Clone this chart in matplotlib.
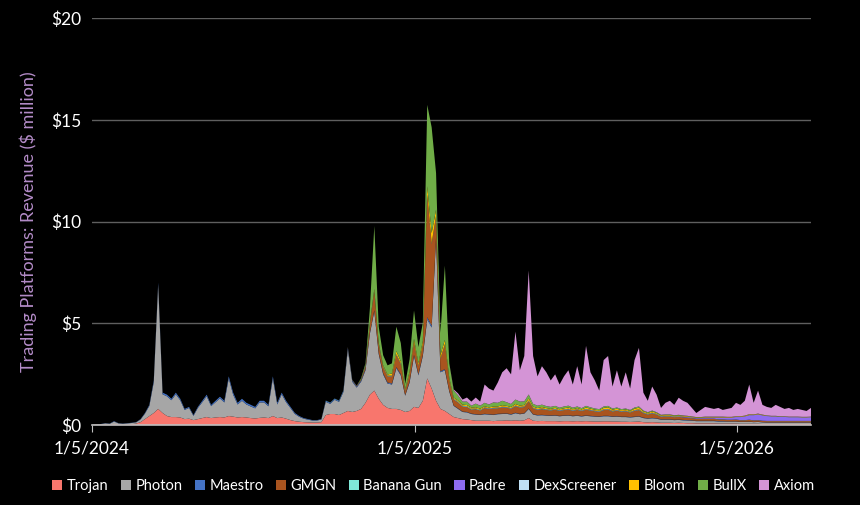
import numpy as np
import pandas as pd
import matplotlib
matplotlib.use("Agg")
import matplotlib.pyplot as plt
from matplotlib.patches import Patch

plt.rcParams['font.family'] = ['Lato', 'DejaVu Sans']

# revenue in $ million, one value every 5 days from 1/5/2024
dates = pd.date_range('2024-01-05', periods=164, freq='5D')

trojan = [0.01, 0.02, 0.03, 0.04, 0.03, 0.05, 0.04, 0.03, 0.04, 0.05,
          0.08, 0.15, 0.30, 0.45, 0.60, 0.80, 0.60, 0.45, 0.40, 0.40,
          0.38, 0.30, 0.32, 0.25, 0.30, 0.35, 0.40, 0.35, 0.38, 0.40,
          0.38, 0.45, 0.42, 0.38, 0.40, 0.38, 0.35, 0.33, 0.36, 0.38,
          0.35, 0.45, 0.35, 0.38, 0.32, 0.25, 0.20, 0.17, 0.15, 0.14,
          0.13, 0.13, 0.15, 0.50, 0.55, 0.55, 0.50, 0.60, 0.70, 0.65,
          0.70, 0.80, 1.10, 1.50, 1.70, 1.30, 1.00, 0.85, 0.80, 0.80,
          0.75, 0.65, 0.70, 0.90, 0.85, 1.20, 2.30, 1.80, 1.20, 0.80,
          0.70, 0.55, 0.40, 0.35, 0.30, 0.28, 0.25, 0.22, 0.22, 0.22,
          0.22, 0.20, 0.22, 0.22, 0.24, 0.22, 0.24, 0.22, 0.24, 0.35,
          0.22, 0.20, 0.21, 0.20, 0.20, 0.20, 0.19, 0.20, 0.20, 0.19,
          0.20, 0.19, 0.20, 0.19, 0.18, 0.18, 0.19, 0.19, 0.18, 0.18,
          0.17, 0.17, 0.16, 0.17, 0.18, 0.15, 0.14, 0.15, 0.14, 0.12,
          0.12, 0.12, 0.11, 0.12, 0.11, 0.10, 0.10, 0.09, 0.09, 0.09,
          0.09, 0.09, 0.08, 0.08, 0.08, 0.08, 0.08, 0.07, 0.07, 0.07,
          0.07, 0.07, 0.06, 0.06, 0.06, 0.06, 0.06, 0.06, 0.06, 0.06,
          0.06, 0.06, 0.06, 0.06]

photon = [0.01, 0.02, 0.02, 0.05, 0.04, 0.13, 0.05, 0.04, 0.05, 0.06,
          0.06, 0.13, 0.27, 0.50, 1.52, 6.10, 0.92, 0.97, 0.83, 1.12,
          0.85, 0.45, 0.53, 0.21, 0.55, 0.78, 1.02, 0.59, 0.75, 0.92,
          0.74, 1.85, 1.08, 0.64, 0.80, 0.64, 0.57, 0.50, 0.76, 0.74,
          0.58, 1.85, 0.67, 1.14, 0.81, 0.59, 0.35, 0.24, 0.17, 0.13,
          0.10, 0.10, 0.13, 0.65, 0.50, 0.70, 0.65, 1.04, 3.02, 1.49,
          1.15, 1.34, 1.60, 3.00, 3.90, 2.20, 1.50, 1.20, 1.20, 2.00,
          1.70, 0.80, 1.40, 2.50, 1.60, 2.20, 2.90, 3.00, 8.00, 1.80,
          2.00, 1.10, 0.55, 0.45, 0.35, 0.35, 0.30, 0.30, 0.28, 0.32,
          0.30, 0.30, 0.32, 0.33, 0.32, 0.30, 0.35, 0.32, 0.33, 0.45,
          0.30, 0.28, 0.28, 0.27, 0.26, 0.27, 0.25, 0.26, 0.27, 0.25,
          0.26, 0.24, 0.26, 0.25, 0.24, 0.23, 0.25, 0.25, 0.23, 0.24,
          0.23, 0.23, 0.22, 0.23, 0.24, 0.20, 0.18, 0.19, 0.18, 0.15,
          0.15, 0.15, 0.14, 0.14, 0.13, 0.13, 0.12, 0.11, 0.11, 0.11,
          0.11, 0.11, 0.10, 0.10, 0.10, 0.10, 0.10, 0.09, 0.09, 0.10,
          0.08, 0.09, 0.08, 0.07, 0.07, 0.07, 0.07, 0.07, 0.07, 0.07,
          0.07, 0.07, 0.07, 0.07]

maestro = [0.00, 0.00, 0.01, 0.01, 0.01, 0.02, 0.01, 0.01, 0.01, 0.01,
           0.01, 0.02, 0.03, 0.05, 0.08, 0.10, 0.08, 0.08, 0.07, 0.08,
           0.07, 0.05, 0.05, 0.04, 0.05, 0.07, 0.08, 0.06, 0.07, 0.08,
           0.08, 0.10, 0.10, 0.08, 0.10, 0.08, 0.08, 0.07, 0.08, 0.08,
           0.07, 0.10, 0.08, 0.08, 0.07, 0.06, 0.05, 0.04, 0.03, 0.03,
           0.02, 0.02, 0.02, 0.05, 0.05, 0.05, 0.05, 0.06, 0.08, 0.06,
           0.05, 0.06, 0.05, 0.05, 0.05, 0.05, 0.05, 0.05, 0.05, 0.05,
           0.05, 0.03, 0.05, 0.05, 0.05, 0.05, 0.10, 0.10, 0.05, 0.05,
           0.05, 0.03, 0.02, 0.02, 0.02, 0.02, 0.02, 0.02, 0.02, 0.02,
           0.02, 0.02, 0.02, 0.02, 0.02, 0.02, 0.02, 0.02, 0.02, 0.02,
           0.02, 0.02, 0.02, 0.02, 0.02, 0.02, 0.02, 0.02, 0.02, 0.02,
           0.02, 0.02, 0.02, 0.02, 0.02, 0.02, 0.02, 0.02, 0.02, 0.02,
           0.02, 0.02, 0.02, 0.02, 0.02, 0.02, 0.02, 0.02, 0.02, 0.02,
           0.02, 0.02, 0.02, 0.02, 0.02, 0.02, 0.02, 0.02, 0.02, 0.02,
           0.02, 0.02, 0.02, 0.02, 0.01, 0.01, 0.01, 0.01, 0.01, 0.01,
           0.01, 0.01, 0.01, 0.01, 0.01, 0.01, 0.01, 0.01, 0.01, 0.01,
           0.01, 0.01, 0.01, 0.01]

gmgn = [0.00, 0.00, 0.00, 0.00, 0.00, 0.00, 0.00, 0.00, 0.00, 0.00,
        0.00, 0.00, 0.00, 0.00, 0.00, 0.00, 0.00, 0.00, 0.00, 0.00,
        0.00, 0.00, 0.00, 0.00, 0.00, 0.00, 0.00, 0.00, 0.00, 0.00,
        0.00, 0.00, 0.00, 0.00, 0.00, 0.00, 0.00, 0.00, 0.00, 0.00,
        0.00, 0.00, 0.00, 0.00, 0.00, 0.00, 0.00, 0.00, 0.00, 0.00,
        0.00, 0.00, 0.00, 0.00, 0.00, 0.00, 0.00, 0.00, 0.03, 0.02,
        0.03, 0.05, 0.15, 0.40, 0.90, 0.40, 0.30, 0.30, 0.35, 0.60,
        0.50, 0.20, 0.35, 0.60, 0.40, 0.50, 6.00, 4.00, 1.00, 0.60,
        1.20, 0.50, 0.30, 0.30, 0.25, 0.25, 0.20, 0.25, 0.20, 0.28,
        0.25, 0.30, 0.27, 0.30, 0.28, 0.26, 0.32, 0.30, 0.30, 0.35,
        0.28, 0.25, 0.28, 0.26, 0.24, 0.27, 0.24, 0.26, 0.28, 0.24,
        0.27, 0.24, 0.28, 0.26, 0.24, 0.22, 0.28, 0.30, 0.24, 0.27,
        0.24, 0.26, 0.22, 0.28, 0.30, 0.22, 0.18, 0.22, 0.18, 0.12,
        0.14, 0.14, 0.12, 0.13, 0.12, 0.11, 0.10, 0.09, 0.09, 0.09,
        0.09, 0.09, 0.08, 0.08, 0.07, 0.07, 0.08, 0.07, 0.07, 0.08,
        0.07, 0.07, 0.06, 0.06, 0.06, 0.06, 0.06, 0.06, 0.06, 0.06,
        0.06, 0.06, 0.06, 0.06]

banana_gun = [0.00] * 53 + [0.01] * 9 + [0.03] * 27 + [0.02] * 45 + [0.01] * 30

padre = [0.00] * 89 + [0.01] * 45 + [0.03] * 5 + [0.05] * 3 + [0.08] * 2 + [0.10] * 2 + \
        [0.12, 0.15, 0.18, 0.22, 0.25, 0.28, 0.26, 0.24, 0.22, 0.22,
         0.20, 0.20, 0.18, 0.18, 0.18, 0.17, 0.17, 0.18]

dexscreener = [0.00] * 62 + [0.01] * 102

bloom = [0.00] * 63 + \
        [0.05, 0.10, 0.05, 0.05, 0.05, 0.10, 0.15,
         0.10, 0.05, 0.10, 0.15, 0.10, 0.15, 0.40, 0.50, 0.30, 0.15,
         0.20, 0.10, 0.05, 0.05, 0.05, 0.05, 0.05, 0.05, 0.05, 0.05,
         0.04, 0.06, 0.05, 0.07, 0.05, 0.05, 0.07, 0.06, 0.06, 0.10,
         0.05, 0.05, 0.06, 0.05, 0.04, 0.05, 0.04, 0.05, 0.06, 0.04,
         0.05, 0.04, 0.07, 0.05, 0.04, 0.04, 0.07, 0.08, 0.05, 0.06,
         0.04, 0.05, 0.04, 0.07, 0.08, 0.05, 0.04, 0.06, 0.04, 0.03,
         0.03, 0.03, 0.03, 0.03, 0.03, 0.03, 0.02, 0.02, 0.02, 0.02,
         0.02, 0.02, 0.02, 0.02, 0.02, 0.02, 0.02, 0.02, 0.02, 0.03,
         0.02, 0.02, 0.02, 0.01, 0.01, 0.01, 0.01, 0.01, 0.01, 0.01,
         0.01, 0.01, 0.01, 0.01]

bullx = [0.00] * 61 + \
        [0.05, 0.10, 0.70, 3.10, 0.80, 0.50, 0.45, 0.50, 1.20,
         0.90, 0.27, 0.60, 1.40, 0.80, 0.90, 4.00, 5.20, 1.80, 1.10,
         3.65, 0.72, 0.35, 0.25, 0.15, 0.17, 0.10, 0.18, 0.15, 0.17,
         0.15, 0.20, 0.18, 0.22, 0.18, 0.15, 0.22, 0.20, 0.18, 0.20,
         0.14, 0.12, 0.12, 0.10, 0.10, 0.10, 0.08, 0.09, 0.09, 0.08,
         0.08, 0.07, 0.08, 0.07, 0.06, 0.06, 0.07, 0.07, 0.06, 0.06,
         0.05, 0.05, 0.05, 0.06, 0.06, 0.04, 0.04, 0.04, 0.04, 0.03,
         0.03, 0.03, 0.03, 0.03, 0.02, 0.02, 0.02, 0.02, 0.02, 0.02,
         0.02, 0.02, 0.02, 0.02, 0.01, 0.01, 0.01, 0.01, 0.01, 0.01,
         0.01, 0.01, 0.01, 0.01, 0.01, 0.01, 0.01, 0.01, 0.01, 0.01,
         0.01, 0.01, 0.01, 0.01]

axiom = [0.00] * 82 + \
        [0.05, 0.10, 0.10, 0.20, 0.20, 0.30, 0.20, 0.90,
         0.78, 0.58, 1.00, 1.40, 1.67, 1.46, 3.34, 1.54, 2.23, 6.09,
         2.35, 1.44, 1.89, 1.66, 1.30, 1.55, 1.14, 1.48, 1.74, 1.14,
         1.98, 1.16, 2.95, 1.72, 1.38, 0.91, 2.28, 2.45, 1.08, 1.83,
         1.11, 1.78, 1.05, 2.33, 2.88, 0.88, 0.56, 1.18, 0.86, 0.34,
         0.57, 0.67, 0.51, 0.84, 0.72, 0.64, 0.42, 0.20, 0.35, 0.48,
         0.43, 0.38, 0.43, 0.33, 0.39, 0.44, 0.66, 0.56, 0.73, 1.46,
         0.57, 1.13, 0.48, 0.42, 0.39, 0.54, 0.46, 0.36, 0.43, 0.33,
         0.38, 0.34, 0.29, 0.43]

names = ['Trojan', 'Photon', 'Maestro', 'GMGN', 'Banana Gun', 'Padre',
         'DexScreener', 'Bloom', 'BullX', 'Axiom']
series = [trojan, photon, maestro, gmgn, banana_gun, padre,
          dexscreener, bloom, bullx, axiom]
colors = ['#f8766d', '#a6a6a6', '#4472c4', '#a9541f', '#7fe8d8', '#8e6bf0',
          '#bfe0f5', '#ffc000', '#70ad47', '#d494d6']

tick_dates = pd.to_datetime(['2024-01-05', '2025-01-05', '2026-01-05'])
tick_labels = ['1/5/2024', '1/5/2025', '1/5/2026']

fig = plt.figure(figsize=(8.6, 5.05), dpi=100, facecolor='black')
ax = fig.add_axes([0.107, 0.158, 0.836, 0.806], facecolor='black')

ax.stackplot(dates, *series, colors=colors, linewidth=0)

ax.set_xlim(dates[0], dates[-1])
ax.set_ylim(0, 20)
ax.set_yticks([0, 5, 10, 15, 20])
ax.set_yticklabels(['$0', '$5', '$10', '$15', '$20'])
ax.set_xticks(tick_dates)
ax.set_xticklabels(tick_labels)

ax.grid(axis='y', color='#5f5f5f', linewidth=1)
ax.set_axisbelow(True)
for s in ['top', 'right', 'left']:
    ax.spines[s].set_visible(False)
ax.spines['bottom'].set_color('#bfbfbf')
ax.spines['bottom'].set_linewidth(1.2)

ax.tick_params(axis='y', length=0, pad=8, labelcolor='white', labelsize=12.5)
ax.tick_params(axis='x', direction='out', length=5, color='#bfbfbf',
               pad=6, labelcolor='white', labelsize=12.5)

ax.set_ylabel('Trading Platforms: Revenue ($ million)', color='#b48cc8',
              fontsize=13, labelpad=10)

handles = [Patch(facecolor=c, label=n) for c, n in zip(colors, names)]
fig.legend(handles=handles, loc='center', bbox_to_anchor=(0.504, 0.038), ncol=10,
           frameon=False, handlelength=0.7, handleheight=0.7, handletextpad=0.3,
           columnspacing=0.85, labelcolor='white', fontsize=10.5)

fig.savefig('out.png', dpi=100, facecolor='black')
